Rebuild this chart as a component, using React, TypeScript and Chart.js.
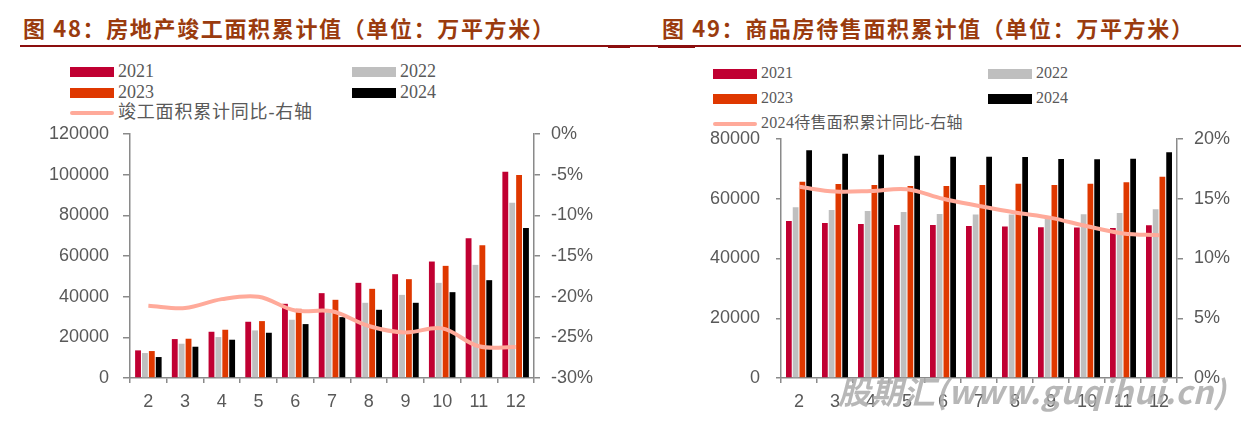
import React, { useEffect, useRef } from "react";
import { Chart, registerables } from "chart.js";

Chart.register(...registerables);

const months = ["2", "3", "4", "5", "6", "7", "8", "9", "10", "11", "12"];

const completion2021 = [13590, 19150, 22750, 27670, 36500, 41740, 46820, 51070, 57300, 68750, 101500];
const completion2022 = [12280, 16860, 20130, 23410, 28650, 32400, 37000, 40900, 46820, 55660, 86270];
const completion2023 = [13260, 19320, 23740, 27990, 34050, 38470, 43870, 48620, 55170, 65320, 99860];
const completion2024 = [10310, 15390, 18830, 22260, 26520, 29960, 33560, 37000, 42230, 48130, 73830];
const completionYoY = [-21.1, -21.4, -20.3, -20.0, -21.7, -21.8, -23.6, -24.4, -23.9, -26.1, -26.2];

const unsold2021 = [52580, 51910, 51580, 51240, 51240, 50910, 50690, 50460, 50350, 50240, 51130];
const unsold2022 = [57150, 56260, 55920, 55590, 54920, 54700, 54700, 54000, 54810, 55250, 56480];
const unsold2023 = [65730, 64950, 64610, 64280, 64280, 64610, 65060, 64610, 65060, 65500, 67400];
const unsold2024 = [76200, 75080, 74750, 74420, 74080, 74080, 73970, 73300, 73190, 73410, 75530];
const unsoldYoY = [16.0, 15.6, 15.65, 15.8, 15.0, 14.4, 13.85, 13.4, 12.7, 12.1, 11.95];

const yearLabels = ["2021", "2022", "2023", "2024"];
const leftLineLabel = "竣工面积累计同比-右轴";
const rightLineLabel = "2024待售面积累计同比-右轴";

const C21 = "#C00032";
const C22 = "#BFBFBF";
const C23 = "#DF3800";
const C24 = "#000000";
const CLINE = "#FFAA9A";
const AXIS = "#8A8A8A";
const TICK = "#595959";
const TITLE = "#9A3B0E";

type ChartProps = {
  left: number;
  top: number;
  width: number;
  height: number;
  series: number[][];
  lineData: number[];
  lineLabel: string;
  yMax: number;
  y1Min: number;
  y1Max: number;
  yAxisWidth: number;
  y1AxisWidth: number;
  padTop: number;
  yPad: number;
  y1Pad: number;
  tickLen: number;
};

function ComboChart(p: ChartProps) {
  const ref = useRef<HTMLCanvasElement | null>(null);
  useEffect(() => {
    if (!ref.current) return;
    const colors = [C21, C22, C23, C24];
    const font = { family: "'Liberation Sans', Arial, sans-serif", size: 18 };
    const yFont = { family: "'Liberation Sans', Arial, sans-serif", size: 18, lineHeight: 0.01 };
    const chart = new Chart(ref.current, {
      type: "bar",
      data: {
        labels: months,
        datasets: [
          {
            type: "line",
            label: p.lineLabel,
            data: p.lineData,
            yAxisID: "y1",
            borderColor: CLINE,
            backgroundColor: CLINE,
            borderWidth: 4,
            pointRadius: 0,
            tension: 0.35,
            order: 0,
          } as any,
          ...p.series.map((s, i) => ({
            type: "bar",
            label: yearLabels[i],
            data: s,
            yAxisID: "y",
            backgroundColor: colors[i],
            categoryPercentage: 0.75,
            barPercentage: 0.85,
            order: 1,
          })),
        ],
      },
      options: {
        animation: false,
        responsive: false,
        maintainAspectRatio: false,
        layout: { padding: { top: p.padTop, left: 0, right: 0, bottom: 0 } },
        plugins: { legend: { display: false }, tooltip: { enabled: false } },
        scales: {
          x: {
            offset: true,
            grid: { offset: true, drawOnChartArea: false, tickLength: 5, color: AXIS, lineWidth: 1.5 },
            border: { color: AXIS, width: 1.5 },
            ticks: { color: TICK, font, autoSkip: false, maxRotation: 0, padding: 8 },
            afterFit: (s: any) => { s.height = 46; },
          },
          y: {
            position: "left",
            min: 0,
            max: p.yMax,
            grid: { drawOnChartArea: false, tickLength: p.tickLen, color: AXIS, lineWidth: 1.5 },
            border: { color: AXIS, width: 1.5 },
            ticks: { color: TICK, font: yFont, stepSize: 20000, padding: p.yPad, callback: (v: any) => String(v) },
            afterFit: (s: any) => { s.width = p.yAxisWidth; },
          },
          y1: {
            position: "right",
            min: p.y1Min,
            max: p.y1Max,
            grid: { drawOnChartArea: false, tickLength: 6, color: AXIS, lineWidth: 1.5 },
            border: { color: AXIS, width: 1.5 },
            ticks: { color: TICK, font: yFont, stepSize: 5, padding: p.y1Pad, callback: (v: any) => `${v}%` },
            afterFit: (s: any) => { s.width = p.y1AxisWidth; },
          },
        },
      } as any,
    });
    return () => chart.destroy();
  }, []);
  return (
    <canvas
      ref={ref}
      width={p.width}
      height={p.height}
      style={{ position: "absolute", left: p.left, top: p.top, width: p.width, height: p.height }}
    />
  );
}

type LegendProps = {
  x1: number;
  x2: number;
  rows: number[];
  size: number;
  lineLabel: string;
  spacing: number;
};

function Legend(p: LegendProps) {
  const colors = [C21, C22, C23, C24];
  const txt: React.CSSProperties = {
    position: "absolute",
    fontFamily: "'Liberation Serif', 'Times New Roman', 'Noto Sans CJK SC', serif",
    fontSize: p.size,
    color: TICK,
    lineHeight: 1,
    whiteSpace: "nowrap",
    letterSpacing: p.spacing,
  };
  const items = yearLabels.map((lab, i) => {
    const x = i % 2 === 0 ? p.x1 : p.x2;
    const y = p.rows[Math.floor(i / 2)];
    return (
      <React.Fragment key={lab}>
        <div style={{ position: "absolute", left: x, top: y - 5, width: 44, height: 10, background: colors[i] }} />
        <div style={{ ...txt, left: x + 48, top: y - p.size / 2 - 1, letterSpacing: 0 }}>{lab}</div>
      </React.Fragment>
    );
  });
  const y3 = p.rows[2];
  return (
    <>
      {items}
      <div style={{ position: "absolute", left: p.x1, top: y3 - 2, width: 44, height: 4, background: CLINE, borderRadius: 2 }} />
      <div style={{ ...txt, left: p.x1 + 48, top: y3 - p.size / 2 - 1 }}>{p.lineLabel}</div>
    </>
  );
}

const titleStyle: React.CSSProperties = {
  position: "absolute",
  top: 13,
  fontFamily: "'Noto Sans CJK SC', sans-serif",
  fontWeight: 700,
  fontSize: 22,
  lineHeight: "28px",
  color: TITLE,
  whiteSpace: "nowrap",
  letterSpacing: 1.65,
};

export default function App() {
  return (
    <div style={{ position: "absolute", left: 0, top: 0, width: 1241, height: 424, background: "#fff", overflow: "hidden" }}>
      <div style={{ ...titleStyle, left: 23 }}>图 48：房地产竣工面积累计值（单位：万平方米）</div>
      <div style={{ ...titleStyle, left: 662 }}>图 49：商品房待售面积累计值（单位：万平方米）</div>
      <div style={{ position: "absolute", left: 20, top: 45, width: 1221, height: 2, background: "#8B0E0E" }} />
      <div style={{ position: "absolute", left: 608, top: 45, width: 22, height: 3, background: "#8B0E0E" }} />
      <div style={{ position: "absolute", left: 658, top: 45, width: 37, height: 3, background: "#8B0E0E" }} />

      <Legend x1={70} x2={352} rows={[72, 93, 113]} size={18} lineLabel={leftLineLabel} spacing={0.8} />
      <Legend x1={713} x2={988} rows={[74, 99, 124]} size={16} lineLabel={rightLineLabel} spacing={0.3} />

      <ComboChart
        left={0}
        top={120}
        width={620}
        height={304}
        series={[completion2021, completion2022, completion2023, completion2024]}
        lineData={completionYoY}
        lineLabel={leftLineLabel}
        yMax={120000}
        y1Min={-30}
        y1Max={0}
        yAxisWidth={130}
        y1AxisWidth={86}
        padTop={14}
        yPad={14}
        y1Pad={11}
        tickLen={7}
      />
      <ComboChart
        left={620}
        top={120}
        width={621}
        height={304}
        series={[unsold2021, unsold2022, unsold2023, unsold2024]}
        lineData={unsoldYoY}
        lineLabel={rightLineLabel}
        yMax={80000}
        y1Min={0}
        y1Max={20}
        yAxisWidth={161}
        y1AxisWidth={64}
        padTop={19}
        yPad={16}
        y1Pad={11}
        tickLen={5}
      />
      <div
        style={{
          position: "absolute",
          left: 838,
          top: 370,
          fontFamily: "'Noto Sans CJK SC', sans-serif",
          fontWeight: 700,
          fontStyle: "italic",
          fontSize: 32,
          lineHeight: "40px",
          color: "rgba(170,170,170,0.85)",
          whiteSpace: "nowrap",
          letterSpacing: 0.5,
        }}
      >
        股期汇(www.guqihui.cn)
      </div>
    </div>
  );
}
